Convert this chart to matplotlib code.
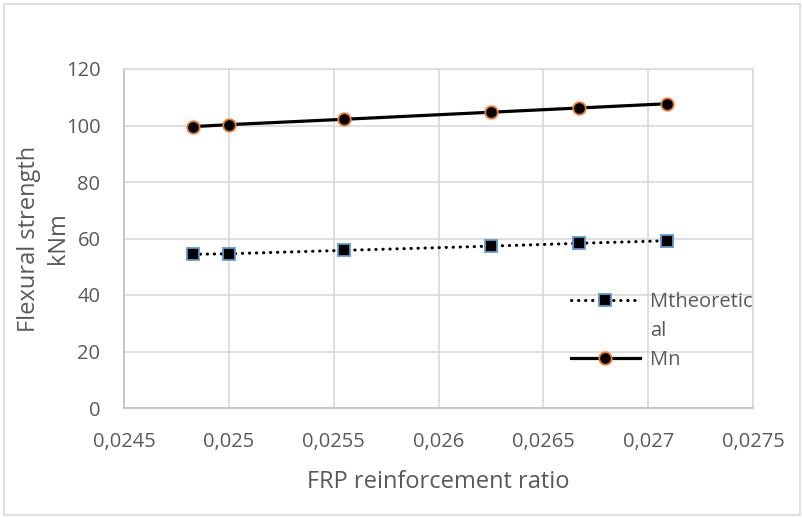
import numpy as np
import matplotlib.pyplot as plt
from matplotlib.lines import Line2D
from matplotlib.patches import Rectangle
from matplotlib.ticker import FuncFormatter, MultipleLocator

# data
ratio = [0.02483, 0.02500, 0.02555, 0.02625, 0.02667, 0.02709]
m_theoretical = [54.4, 54.6, 55.8, 57.3, 58.3, 59.2]
m_n = [99.6, 100.3, 102.2, 104.7, 106.2, 107.7]

txt_col = '#595959'
plt.rcParams['font.family'] = ['Open Sans', 'DejaVu Sans']
plt.rcParams['font.size'] = 14.5

fig = plt.figure(figsize=(8.03, 5.18), dpi=100)
W, H = 803., 518.
ax = fig.add_axes([124 / W, 1 - 408 / H, (753 - 124) / W, (408 - 69) / H])

# outer chart border
fig.patches.append(Rectangle((4 / W, 3 / H), 796 / W, 511 / H, transform=fig.transFigure,
                             fill=False, edgecolor='#d9d9d9', lw=1.2))

l_th, = ax.plot(ratio, m_theoretical, color='black', lw=2.2, linestyle=(0, (0.1, 2.2)),
                dash_capstyle='round', marker='s', markersize=9, markerfacecolor='black',
                markeredgecolor='#5b9bd5', markeredgewidth=1.3, zorder=3)
l_mn, = ax.plot(ratio, m_n, color='black', lw=2.3, marker='o', markersize=9,
                markerfacecolor='black', markeredgecolor='#ed7d31', markeredgewidth=1.3,
                zorder=3)

ax.set_xlim(0.0245, 0.0275)
ax.set_ylim(0, 120)
ax.xaxis.set_major_locator(MultipleLocator(0.0005))
ax.yaxis.set_major_locator(MultipleLocator(20))
ax.xaxis.set_major_formatter(FuncFormatter(lambda v, p: ('%g' % round(v, 5)).replace('.', ',')))

ax.grid(True, color='#d9d9d9', lw=1.2)
ax.set_axisbelow(True)
for s in ['top', 'right']:
    ax.spines[s].set_color('#d9d9d9')
    ax.spines[s].set_linewidth(1.2)
for s in ['left', 'bottom']:
    ax.spines[s].set_color('#bfbfbf')
    ax.spines[s].set_linewidth(1.2)
ax.tick_params(length=0, colors=txt_col, labelsize=14.5)
ax.tick_params(axis='x', pad=17.5)
ax.tick_params(axis='y', pad=17)

ax.set_xlabel('FRP reinforcement ratio', color=txt_col, fontsize=17, labelpad=12.5)
ax.set_ylabel('Flexural strength\nkNm', color=txt_col, fontsize=17, labelpad=-3,
              linespacing=1.25, multialignment='center')

# legend label wraps in the original, second line kept as its own row
blank = Line2D([], [], linestyle='none')
leg = ax.legend([l_th, blank, l_mn], ['Mtheoretic', 'al', 'Mn'],
                loc='upper left', bbox_to_anchor=(553 / W, 1 - 274 / H),
                bbox_transform=fig.transFigure, frameon=False, fontsize=14.5,
                handlelength=3.4, handletextpad=0.5, labelspacing=0.45)
for t in leg.get_texts():
    t.set_color(txt_col)

fig.savefig('out.png', dpi=100)
